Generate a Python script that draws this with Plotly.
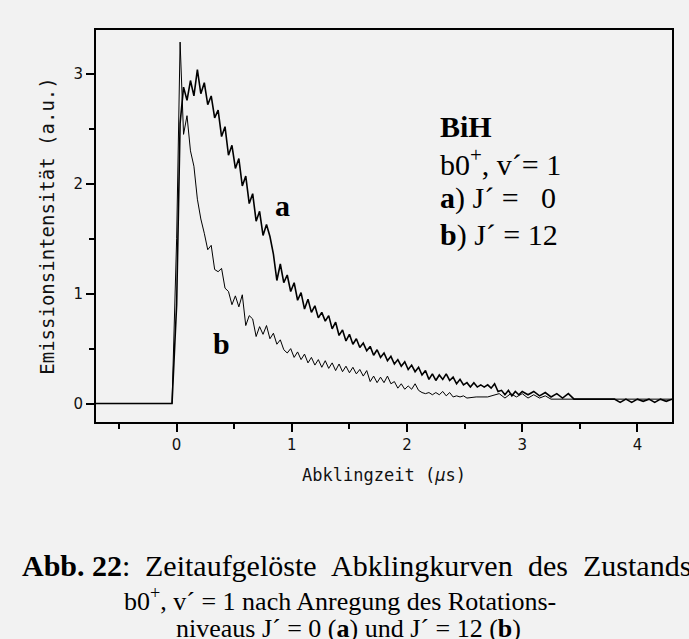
import plotly.graph_objects as go

# ---------------- data ----------------
pre_time = [-0.7, -0.04]
pre_val = [0.0, 0.0]

time_a = [round(0.03 * i, 2) for i in range(101)]
intensity_a = [
    0.90, 2.55, 2.88, 2.76, 2.94, 2.80, 3.04, 2.82, 2.92, 2.72,
    2.80, 2.60, 2.67, 2.43, 2.52, 2.26, 2.35, 2.14, 2.23, 1.98,
    2.07, 1.82, 1.91, 1.66, 1.75, 1.53, 1.63, 1.52, 1.36, 1.12,
    1.27, 1.10, 1.17, 1.02, 1.10, 0.94, 1.01, 0.86, 0.95, 0.83,
    0.89, 0.78, 0.83, 0.75, 0.80, 0.68, 0.74, 0.62, 0.67, 0.57,
    0.63, 0.54, 0.59, 0.51, 0.55, 0.48, 0.52, 0.44, 0.49, 0.42,
    0.46, 0.39, 0.43, 0.36, 0.40, 0.34, 0.38, 0.31, 0.35, 0.29,
    0.33, 0.26, 0.30, 0.22, 0.27, 0.21, 0.26, 0.22, 0.27, 0.21,
    0.24, 0.18, 0.22, 0.17, 0.19, 0.15, 0.19, 0.15, 0.17, 0.15,
    0.17, 0.14, 0.18, 0.11, 0.12, 0.08, 0.12, 0.07, 0.11, 0.08,
    0.11,
]
tail_time_a = [3.05, 3.10, 3.15, 3.20, 3.25, 3.30, 3.35, 3.40, 3.45, 3.50,
               3.60, 3.70, 3.80, 3.85, 3.90, 3.95, 4.00, 4.05, 4.10, 4.15,
               4.20, 4.25, 4.30]
tail_val_a = [0.08, 0.11, 0.07, 0.10, 0.06, 0.09, 0.05, 0.09, 0.04, 0.04,
              0.04, 0.04, 0.04, 0.01, 0.04, 0.01, 0.04, 0.02, 0.04, 0.01,
              0.04, 0.02, 0.04]

time_b = [round(0.03 * i, 2) for i in range(85)]
intensity_b = [
    1.50, 3.29, 2.45, 2.62, 2.30, 2.16, 1.86, 1.68, 1.55, 1.40,
    1.44, 1.22, 1.20, 1.23, 1.05, 1.02, 0.90, 0.98, 0.88, 0.99,
    0.71, 0.80, 0.77, 0.61, 0.70, 0.63, 0.71, 0.59, 0.64, 0.54,
    0.58, 0.49, 0.46, 0.50, 0.42, 0.47, 0.40, 0.45, 0.37, 0.42,
    0.35, 0.40, 0.33, 0.39, 0.32, 0.37, 0.30, 0.36, 0.29, 0.34,
    0.28, 0.33, 0.27, 0.31, 0.25, 0.30, 0.20, 0.25, 0.19, 0.24,
    0.19, 0.25, 0.18, 0.20, 0.14, 0.18, 0.13, 0.16, 0.13, 0.18,
    0.12, 0.10, 0.09, 0.10, 0.08, 0.10, 0.08, 0.11, 0.07, 0.10,
    0.06, 0.07, 0.06, 0.07, 0.05,
]
tail_time_b = [2.60, 2.70, 2.80, 2.85, 2.90, 2.95, 3.00, 3.05, 3.10, 3.15,
               3.20, 3.25, 3.40, 3.60, 3.80, 4.00, 4.30]
tail_val_b = [0.06, 0.06, 0.09, 0.05, 0.09, 0.06, 0.09, 0.05, 0.08, 0.05,
              0.07, 0.04, 0.04, 0.04, 0.04, 0.04, 0.04]

x_ticks = [0, 1, 2, 3, 4]
x_minor = [-0.5, 0.5, 1.5, 2.5, 3.5]
y_ticks = [0, 1, 2, 3]
y_minor = [0.5, 1.5, 2.5]

caption_line1_words = ["<b>Abb. 22</b>:", "Zeitaufgelöste", "Abklingkurven", "des", "Zustands"]
caption_line2 = "b0<sup>+</sup>, v´ = 1 nach Anregung des Rotations-"
caption_line3 = "niveaus J´ = 0 (<b>a</b>) und J´ = 12 (<b>b</b>)"

# ---------------- figure ----------------
xa = pre_time + time_a + tail_time_a
ya = pre_val + intensity_a + tail_val_a
xb = pre_time + time_b + tail_time_b
yb = pre_val + intensity_b + tail_val_b

fig = go.Figure()
fig.add_trace(go.Scatter(x=xb, y=yb, mode="lines",
                         line=dict(color="black", width=1.0), showlegend=False))
fig.add_trace(go.Scatter(x=xa, y=ya, mode="lines",
                         line=dict(color="black", width=1.6), showlegend=False))

serif = "Liberation Serif, Times New Roman, serif"
sans = "DejaVu Sans, sans-serif"
mono = "DejaVu Sans Mono, monospace"

ann = []
# curve labels
ann.append(dict(x=0.92, y=1.80, xref="x", yref="y", text="<b>a</b>", showarrow=False,
                font=dict(family=serif, size=30, color="black")))
ann.append(dict(x=0.39, y=0.55, xref="x", yref="y", text="<b>b</b>", showarrow=False,
                font=dict(family=serif, size=30, color="black")))
# info block
info_lines = ["<b>BiH</b>", "b0<sup>+</sup>, v´= 1", "<b>a</b>) J´ =   0", "<b>b</b>) J´ = 12"]
info_y = [2.52, 2.198, 1.87, 1.534]
for t, yy in zip(info_lines, info_y):
    ann.append(dict(x=2.266, y=yy, xref="x", yref="y", text=t, showarrow=False,
                    xanchor="left", yanchor="middle",
                    font=dict(family=serif, size=30, color="black")))


def px_x(px):
    return (px - 96) / 576


def px_y(py):
    return (422 - py) / 392


# caption (first line set wider, running to the right edge)
word_px = [20, 143, 329, 526, 581]
for t, px in zip(caption_line1_words, word_px):
    ann.append(dict(x=px_x(px), y=px_y(565), xref="paper", yref="paper",
                    text=t, showarrow=False, xanchor="left", yanchor="middle",
                    font=dict(family=serif, size=30, color="black")))
for t, px, py in [(caption_line2, 122, 599), (caption_line3, 174, 628)]:
    ann.append(dict(x=px_x(px), y=px_y(py), xref="paper", yref="paper",
                    text=t, showarrow=False, xanchor="left", yanchor="middle",
                    font=dict(family=serif, size=26, color="black")))

fig.update_layout(
    width=689, height=639,
    margin=dict(l=96, r=17, t=30, b=217),
    paper_bgcolor="#f2f2f2", plot_bgcolor="#f2f2f2",
    annotations=ann,
    font=dict(family=sans, size=15, color="#111"),
)
fig.update_xaxes(
    range=[-0.7, 4.3], tickvals=x_ticks, ticks="outside", ticklen=8, tickwidth=1.5,
    tickcolor="black", showline=True, linecolor="black", linewidth=2, mirror=True,
    showgrid=False, zeroline=False,
    minor=dict(tickvals=x_minor, ticks="outside", ticklen=5, tickwidth=1.5, tickcolor="black", showgrid=False),
    title=dict(text="Abklingzeit (<i>μ</i>s)", font=dict(family=mono, size=17, color="#111"), standoff=16),
    tickfont=dict(family=sans, size=15, color="#111"),
)
fig.update_yaxes(
    range=[-0.168, 3.40], tickvals=y_ticks, ticks="outside", ticklen=8, tickwidth=1.5,
    tickcolor="black", showline=True, linecolor="black", linewidth=2, mirror=True,
    showgrid=False, zeroline=False,
    minor=dict(tickvals=y_minor, ticks="outside", ticklen=5, tickwidth=1.5, tickcolor="black", showgrid=False),
    title=dict(text="Emissionsintensität (a.u.)", font=dict(family=mono, size=19, color="#111"), standoff=14),
    tickfont=dict(family=sans, size=15, color="#111"),
)

fig.write_html(
    "out.html",
    config={"displayModeBar": False},
    post_script="document.body.style.margin='0';document.body.style.background='#f2f2f2';",
)
